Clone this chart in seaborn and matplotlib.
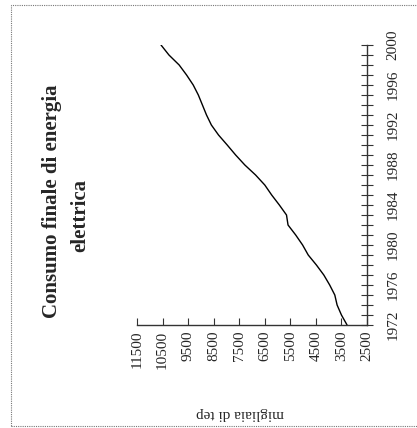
import numpy as np
import pandas as pd
import matplotlib
matplotlib.use("Agg")
import matplotlib.pyplot as plt
import seaborn as sns
from matplotlib.patches import Rectangle
from matplotlib.ticker import MultipleLocator

# ==========================================
# Data (read from the scanned page, rotated 90 deg)
# ==========================================
years = list(range(1972, 2001))
consumo = [3280, 3500, 3670, 3760, 3960, 4190, 4480, 4800, 5020, 5290,
           5590, 5650, 5930, 6230, 6500, 6860, 7280, 7640, 7970, 8310,
           8590, 8780, 8940, 9100, 9300, 9560, 9850, 10250, 10560]
value_ticks = [2500, 3500, 4500, 5500, 6500, 7500, 8500, 9500, 10500, 11500]
year_ticks = [1972, 1976, 1980, 1984, 1988, 1992, 1996, 2000]

title_1 = "Consumo finale di energia"
title_2 = "elettrica"
unit_label = "migliaia di tep"

df = pd.DataFrame({"anno": years, "consumo": consumo})

# ==========================================
# Figure: the page is turned 90 deg counterclockwise
# ==========================================
sns.set_style("white")
plt.rcParams["font.family"] = ["Liberation Serif", "DejaVu Serif"]

W, H = 417, 428
fig = plt.figure(figsize=(W / 100, H / 100), dpi=100)
ax = fig.add_axes([137 / W, 1 - 325 / H, 230 / W, 280 / H])

sns.lineplot(data=df, x="consumo", y="anno", sort=False, orient="y",
             color="black", linewidth=1.0, ax=ax)

ax.set_xlim(11500, 2500)
ax.set_ylim(1972, 2000)
ax.set_xticks(value_ticks)
ax.set_xticklabels([str(v) for v in value_ticks], rotation=90, fontsize=11)
ax.set_yticks(year_ticks)
ax.set_yticklabels([str(y) for y in year_ticks], rotation=90, fontsize=11,
                   va="center")
ax.yaxis.set_minor_locator(MultipleLocator(1))
ax.yaxis.tick_right()

for s in ["top", "left"]:
    ax.spines[s].set_visible(False)
for s in ["bottom", "right"]:
    ax.spines[s].set_color("#333333")
    ax.spines[s].set_linewidth(1.0)

ax.tick_params(axis="x", direction="in", length=5, width=0.8, color="#333333",
               pad=4, bottom=True)
ax.tick_params(axis="y", which="both", direction="inout", length=8, width=0.8,
               color="#333333", pad=10, right=True, left=False)

ax.set_xlabel(unit_label, rotation=180, fontsize=11)
ax.xaxis.set_label_coords(0.448, -0.293)
ax.set_ylabel("")

# title, rotated with the page
fig.text(52 / W, 1 - 201 / H, title_1, rotation=90, ha="center", va="center",
         fontsize=15, fontweight="bold")
fig.text(80 / W, 1 - 216 / H, title_2, rotation=90, ha="center", va="center",
         fontsize=15, fontweight="bold")

# frame of the scanned page
fig.add_artist(Rectangle((11 / W, 1 - 426 / H), 1.2, 421 / H,
                         transform=fig.transFigure, fill=False,
                         edgecolor="#777777", linewidth=0.8, linestyle=(0, (1, 1))))

fig.savefig("out.png", dpi=100)
